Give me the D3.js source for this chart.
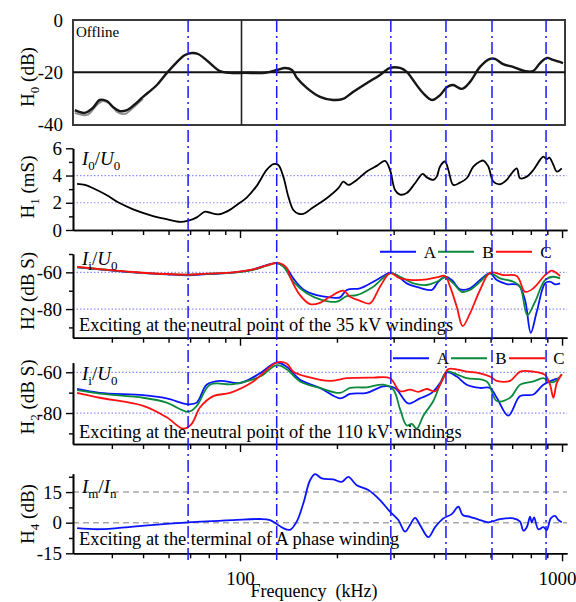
<!DOCTYPE html>
<html>
<head>
<meta charset="utf-8">
<script src="https://cdn.jsdelivr.net/npm/d3@7"></script>
<style>
  html, body { margin: 0; padding: 0; background: #fff; }
  svg { display: block; }
  text { font-family: "Liberation Serif", "Times New Roman", serif; fill: #000; }
</style>
</head>
<body>
<svg id="chart" width="576" height="602"></svg>
<script>
// ---------- data (frequency in kHz) ----------
const markerFreqs = [69, 130, 294, 436, 606, 892];

// H0: offline response (dB)
const h0Freq = [30.7,33.0,34.9,36.7,38.6,40.3,42.4,44.6,46.5,50.0,55.2,59.3,63.7,67.5,70.9,74.1,77.9,82.4,86.7,93.1,103.6,119.6,130.3,138.0,145.0,150.3,161.5,177.2,194.4,208.9,224.3,248.0,272.1,292.3,314.0,330.1,344.6,370.1,394.8,418.0,439.5,458.7,489.1,517.9,556.3,597.4,619.3,655.8,704.3,767.7,812.8,854.5,898.4,937.7,1007];
const h0Val = [-34.6,-35.7,-33.8,-30.7,-31.1,-33.4,-35.0,-34.6,-33.0,-29.5,-24.9,-20.2,-16.0,-13.3,-12.5,-12.9,-14.8,-17.5,-19.5,-20.2,-20.2,-20.2,-19.1,-18.3,-19.1,-22.2,-26.1,-29.5,-30.7,-30.3,-27.6,-24.1,-21.0,-18.3,-18.3,-19.9,-23.0,-28.0,-30.7,-28.8,-25.7,-24.9,-26.4,-23.7,-17.9,-14.8,-14.8,-16.8,-17.9,-19.5,-19.5,-16.4,-14.4,-15.2,-16.4];
const h0bFreq = [30.7,33.5,36.0,37.5,39.5,41.5,43.9,46.5,50.0];
const h0bVal = [-35.7,-36.5,-32.6,-31.1,-32.2,-35.3,-36.1,-33.8,-30.3];

// H1: I0/U0 (mS)
const h1Freq = [31.2,33.0,35.0,38.5,42.4,46.6,52.5,59.2,65.1,69.1,73.4,77.9,80.7,85.6,90.9,97.7,104.9,112.7,121.0,126.9,131.5,136.3,141.3,146.4,151.7,157.0,168.9,185.9,202.0,209.4,216.9,230.4,247.5,265.8,282.0,292.3,302.9,314.0,329.5,349.6,369.4,380.1,398.4,408.3,418.0,433.2,443.6,459.7,482.2,505.8,530.3,556.3,569.6,590.3,611.9,641.6,673.3,698.1,723.5,740.8,777.2,814.6,854.5,874.9,896.6,913.3,940.0,962.8,997.9];
const h1Val = [3.38,3.31,3.07,2.57,1.96,1.52,1.10,0.79,0.59,0.68,0.93,1.35,1.27,1.15,1.35,1.84,2.38,3.24,4.41,4.83,4.78,3.92,2.45,1.47,1.20,1.18,1.67,2.33,3.07,3.55,3.31,3.68,4.29,4.71,5.07,4.41,2.94,2.60,2.72,3.43,4.12,3.87,3.68,3.92,4.66,5.03,4.41,3.31,3.48,3.80,4.66,5.03,5.10,4.66,3.55,3.36,3.68,4.17,4.53,3.80,3.92,4.41,5.15,5.39,5.20,5.32,4.78,4.29,4.53];

// H2: Ii/U0 (dB S), excitation at 35 kV neutral
const n35AFreq = [31.2,36.7,46.6,59.2,69.1,78.8,95.3,110.0,121.0,129.4,133.1,139.6,146.4,157.3,173.0,190.4,204.5,214.5,235.9,259.4,278.6,292.3,306.6,329.5,362.2,393.9,413.0,433.2,454.5,482.2,517.9,556.3,597.4,627.1,673.3,731.6,767.5,799.5,834.5,885.6,917.9,951.2,985.9];
const n35AVal = [-57.3,-58.4,-60.0,-61.1,-61.6,-61.0,-60.2,-58.4,-56.0,-54.8,-55.5,-57.8,-63.3,-69.3,-72.4,-73.6,-73.6,-69.6,-68.7,-65.1,-62.0,-60.2,-61.5,-66.0,-68.4,-69.6,-65.1,-62.4,-64.2,-69.3,-68.7,-64.2,-60.5,-64.2,-66.4,-66.9,-75.1,-92.9,-81.5,-66.0,-65.1,-66.5,-66.0];
const n35BFreq = [31.2,36.7,46.6,59.2,69.1,78.8,95.3,110.0,121.0,130.0,136.3,146.4,161.1,177.2,199.7,214.5,230.4,259.4,292.3,314.0,345.3,380.1,408.3,433.2,459.7,488.0,517.9,556.3,597.4,641.6,706.0,740.8,780.2,824.4,885.6,940.0,985.9];
const n35BVal = [-57.2,-58.3,-59.9,-61.0,-61.3,-60.8,-60.1,-58.6,-56.4,-55.0,-56.8,-65.1,-71.4,-74.7,-76.0,-72.9,-72.4,-67.8,-60.5,-62.4,-66.0,-66.9,-65.1,-62.7,-66.0,-70.6,-69.6,-65.1,-60.5,-63.3,-65.1,-67.8,-83.3,-76.0,-64.2,-62.4,-63.3];
const n35CFreq = [31.2,36.7,46.6,59.2,69.1,78.8,95.3,110.0,121.0,131.5,139.6,143.0,153.6,165.0,177.2,190.4,209.4,219.6,235.9,253.4,272.1,292.3,314.0,345.3,380.1,408.3,433.2,449.0,471.0,491.5,517.9,556.3,597.4,657.2,723.5,767.5,814.6,885.6,929.0,962.8,985.9];
const n35CVal = [-57.0,-58.2,-59.8,-60.9,-61.2,-60.7,-60.0,-58.4,-56.2,-54.8,-57.5,-62.4,-72.4,-77.3,-76.6,-73.3,-70.0,-73.3,-75.5,-76.9,-67.8,-60.5,-63.3,-64.2,-63.8,-62.7,-62.0,-67.8,-78.7,-89.3,-82.3,-69.6,-60.2,-61.5,-62.0,-70.6,-68.7,-61.5,-59.1,-60.5,-62.0];

// H2: Ii/U0 (dB S), excitation at 110 kV neutral
const n110AFreq = [31.2,36.7,50.1,59.2,69.1,73.4,78.8,86.7,100,115.4,130.0,139.6,153.6,177.2,204.5,219.6,247.5,278.6,302.9,333.3,362.2,393.9,418.0,438.5,471.0,505.8,556.3,597.4,627.1,681.1,740.8,814.6,874.9,940.0,985.9];
const n110AVal = [-68.2,-70.1,-71.2,-72.8,-75.7,-74.9,-66.1,-64.2,-65.3,-60.5,-55.2,-57.3,-63.7,-67.7,-72.8,-70.6,-70.1,-66.9,-67.7,-75.3,-72.8,-70.1,-65.3,-60.0,-62.1,-66.1,-67.7,-67.7,-72.5,-81.3,-71.7,-70.9,-66.1,-63.7,-62.9];
const n110BFreq = [31.2,36.7,50.1,59.2,69.1,73.4,80.7,95.3,115.4,130.0,139.6,153.6,177.2,204.5,219.6,247.5,278.6,299.3,314.0,329.5,341.4,353.9,370.9,398.4,418.0,438.5,471.0,505.8,583.7,627.1,689.5,740.8,814.6,874.9,917.9,951.2,997.9];
const n110BVal = [-68.8,-70.5,-72.5,-74.9,-79.4,-76.5,-66.1,-65.8,-62.1,-56.5,-58.5,-64.5,-67.7,-70.1,-67.7,-67.4,-66.1,-68.5,-78.1,-86.1,-85.3,-87.7,-81.3,-74.1,-66.1,-59.7,-61.0,-62.9,-64.5,-74.1,-72.5,-66.1,-64.5,-62.9,-64.8,-64.5,-61.0];
const n110CFreq = [31.2,36.7,50.1,59.2,66.7,70.8,75.1,82.6,93.1,110.0,130.0,139.6,146.4,161.1,190.4,214.5,259.4,292.3,314.0,337.3,357.9,380.1,403.4,428.1,443.6,505.8,556.3,597.4,627.1,689.5,740.8,814.6,885.6,917.9,940.0,962.8,997.9];
const n110CVal = [-70.1,-72.5,-76.5,-82.1,-87.7,-85.3,-77.3,-71.7,-70.1,-64.5,-55.2,-55.7,-59.7,-62.1,-64.2,-62.9,-62.6,-62.9,-69.3,-68.5,-69.6,-68.2,-69.3,-62.9,-58.4,-59.7,-60.5,-62.1,-64.2,-64.2,-59.7,-59.7,-61.3,-66.1,-72.5,-65.3,-61.0];

// H4: Im/In (dB), excitation at A phase terminal
const h4Freq = [31.2,36.7,46.6,59.2,69.1,95.3,115.4,123.9,130.0,136.3,143.0,150.0,157.3,165.0,171.0,179.4,194.9,207.0,216.9,230.4,250.3,272.1,292.3,310.2,325.4,337.3,349.6,362.2,384.5,403.4,428.1,454.5,476.4,491.5,517.9,556.3,590.3,641.6,706.0,740.8,758.2,777.2,795.4,805.2,818.5,844.2,874.9,896.6,922.5,951.2,973.9,997.9];
const h4Val = [-2.7,-3.2,-1.9,-0.6,0.2,1.3,1.8,1.3,-0.6,-2.7,-3.5,0.5,9.5,20.8,23.8,21.7,21.2,20.0,22.4,18.4,16.0,11.1,5.4,1.3,-4.4,-1.1,2.4,-1.1,-7.1,-2.2,2.1,4.2,7.8,3.8,2.9,1.3,0.2,1.7,2.1,0.5,-3.9,-2.2,2.9,0,2.6,-3.2,-2.2,-3.6,2.1,3.3,1.3,0.2];

const xMajorTicks = [100, 1000];
const xMinorTicks = [40,50,60,70,80,90,200,300,400,500,600,700,800,900];
const legendNames = ["A", "B", "C"];
const phaseColors = ["#0a14ff", "#0b8a3c", "#ff1010"];

// ---------- layout ----------
const svg = d3.select("#chart");
const X0 = 73, X1 = 567;
const x = d3.scaleLog().domain([30.3, 1036]).range([X0, X1]);

const zip = (fs, vs) => fs.map((f, i) => [f, vs[i]]);
const font = 19;

function makeLine(y) {
  return d3.line().x(d => x(d[0])).y(d => y(d[1])).curve(d3.curveCatmullRom.alpha(0.5));
}

function yAxisTitle(cy, parts) {
  const t = svg.append("text")
    .attr("transform", `translate(34,${cy}) rotate(-90)`)
    .attr("text-anchor", "middle")
    .attr("font-size", font);
  parts.forEach(p => {
    const ts = t.append("tspan").text(p.t);
    if (p.sub) ts.attr("font-size", 13).attr("dy", 5);
    if (p.back) ts.attr("dy", -5);
  });
}

function ratioLabel(px, py, num, numSub, den, denSub) {
  const t = svg.append("text").attr("x", px).attr("y", py).attr("font-size", font);
  t.append("tspan").attr("font-style", "italic").text(num);
  t.append("tspan").attr("font-size", 13).attr("dy", 5).text(numSub);
  t.append("tspan").attr("dy", -5).text("/");
  t.append("tspan").attr("font-style", "italic").text(den);
  t.append("tspan").attr("font-size", 13).attr("dy", 5).text(denSub);
}

function leftAxis(y, majors, minors, fmt) {
  const g = svg.append("g").attr("transform", `translate(${X0},0)`);
  g.call(d3.axisLeft(y).tickValues(majors).tickSize(7).tickSizeOuter(0).tickPadding(4).tickFormat(fmt));
  g.append("g").call(d3.axisLeft(y).tickValues(minors).tickSize(4).tickSizeOuter(0).tickFormat(""));
  g.selectAll("path").attr("stroke", "#000").attr("stroke-width", 1.6);
  g.selectAll("line").attr("stroke", "#000").attr("stroke-width", 1.4);
  g.selectAll("text").attr("font-size", font).attr("font-family", "Liberation Serif, serif").attr("fill", "#000");
  return g;
}

function bottomAxis(yPos, withLabels) {
  const g = svg.append("g").attr("transform", `translate(0,${yPos})`);
  g.call(d3.axisBottom(x).tickValues(xMajorTicks).tickSize(8).tickSizeOuter(0).tickPadding(10)
    .tickFormat(withLabels ? d3.format("d") : ""));
  g.append("g").call(d3.axisBottom(x).tickValues(xMinorTicks).tickSize(5).tickSizeOuter(0).tickFormat(""));
  g.selectAll("path").attr("stroke", "#000").attr("stroke-width", 1.6);
  g.selectAll("line").attr("stroke", "#000").attr("stroke-width", 1.4);
  g.selectAll("text").attr("font-size", font).attr("font-family", "Liberation Serif, serif").attr("fill", "#000");
  return g;
}

function hGuide(y, v, color, dash, width) {
  svg.append("line").attr("x1", X0).attr("x2", X1).attr("y1", y(v)).attr("y2", y(v))
    .attr("stroke", color).attr("stroke-dasharray", dash).attr("stroke-width", width);
}

function legend(x0, yL) {
  legendNames.forEach((n, i) => {
    const lx = x0 + i * 58;
    svg.append("line").attr("x1", lx).attr("x2", lx + 36).attr("y1", yL).attr("y2", yL)
      .attr("stroke", phaseColors[i]).attr("stroke-width", 2);
    svg.append("text").attr("x", lx + 50).attr("y", yL + 6).attr("text-anchor", "middle")
      .attr("font-size", 17).attr("fill", "#333").text(n);
  });
}

// ---------- panel 0: H0 offline (framed) ----------
const y0 = d3.scaleLinear().domain([0, -40]).range([20.7, 124]);
svg.append("defs").append("filter").attr("id", "soft")
  .append("feGaussianBlur").attr("stdDeviation", 0.55);
svg.append("rect").attr("x", X0).attr("y", 20).attr("width", 565 - X0).attr("height", 105)
  .attr("fill", "none").attr("stroke", "#3a3a3a").attr("stroke-width", 2);
svg.append("line").attr("x1", X0).attr("x2", 565).attr("y1", y0(-20)).attr("y2", y0(-20))
  .attr("stroke", "#111").attr("stroke-width", 2);
svg.append("line").attr("x1", x(100) + 1.5).attr("x2", x(100) + 1.5).attr("y1", 20).attr("y2", 125)
  .attr("stroke", "#222").attr("stroke-width", 1.6);
[0, -20, -40].forEach(v => {
  svg.append("text").attr("x", 63).attr("y", y0(v)).attr("dy", "0.35em")
    .attr("text-anchor", "end").attr("font-size", font).text(String(v));
});
svg.append("path").datum(zip(h0bFreq, h0bVal)).attr("d", makeLine(y0))
  .attr("fill", "none").attr("stroke", "#8a8a8a").attr("stroke-width", 1.8).attr("filter", "url(#soft)");
svg.append("path").datum(zip(h0Freq, h0Val)).attr("d", makeLine(y0))
  .attr("fill", "none").attr("stroke", "#151515").attr("stroke-width", 2.4).attr("filter", "url(#soft)");
svg.append("text").attr("x", 76).attr("y", 37).attr("font-size", 15).text("Offline");
yAxisTitle(77, [{t: "H"}, {t: "0", sub: true}, {t: " (dB)", back: true}]);

// ---------- panel 1: H1 ----------
const y1 = d3.scaleLinear().domain([0, 6]).range([230, 148.3]);
hGuide(y1, 2, "#8c8cff", "1.5,2", 1.2);
hGuide(y1, 4, "#8c8cff", "1.5,2", 1.2);
svg.append("path").datum(zip(h1Freq, h1Val)).attr("d", makeLine(y1))
  .attr("fill", "none").attr("stroke", "#000").attr("stroke-width", 1.8);
leftAxis(y1, [0, 2, 4, 6], [1, 3, 5], d => String(d));
bottomAxis(230, false);
ratioLabel(82, 165, "I", "0", "U", "0");
yAxisTitle(187, [{t: "H"}, {t: "1", sub: true}, {t: " (mS)", back: true}]);

// ---------- panel 2: H2, 35 kV ----------
const y2 = d3.scaleLinear().domain([-95.6, -50]).range([337.7, 254]);
hGuide(y2, -60, "#8c8cff", "1.5,2", 1.2);
hGuide(y2, -80, "#8c8cff", "1.5,2", 1.2);
[[n35AFreq, n35AVal], [n35BFreq, n35BVal], [n35CFreq, n35CVal]].forEach((s, i) => {
  svg.append("path").datum(zip(s[0], s[1])).attr("d", makeLine(y2))
    .attr("fill", "none").attr("stroke", phaseColors[i]).attr("stroke-width", 1.8);
});
leftAxis(y2, [-60, -80], [-50, -70, -90], d => String(d));
bottomAxis(337.7, false);
ratioLabel(82, 265, "I", "i", "U", "0");
legend(380, 251.7);
svg.append("text").attr("x", 79).attr("y", 331).attr("font-size", 18.4)
  .text("Exciting at the neutral point of the 35 kV windings");
yAxisTitle(291, [{t: "H2 (dB S)"}]);

// ---------- panel 3: H2, 110 kV ----------
const y3 = d3.scaleLinear().domain([-95.2, -55.3]).range([444, 362.7]);
hGuide(y3, -60, "#8c8cff", "1.5,2", 1.2);
hGuide(y3, -80, "#8c8cff", "1.5,2", 1.2);
[[n110AFreq, n110AVal], [n110BFreq, n110BVal], [n110CFreq, n110CVal]].forEach((s, i) => {
  svg.append("path").datum(zip(s[0], s[1])).attr("d", makeLine(y3))
    .attr("fill", "none").attr("stroke", phaseColors[i]).attr("stroke-width", 1.8);
});
leftAxis(y3, [-60, -80], [-70, -90], d => String(d));
bottomAxis(444, false);
ratioLabel(82, 380, "I", "i", "U", "0");
legend(393, 358.3);
svg.append("text").attr("x", 79).attr("y", 438).attr("font-size", 18.4)
  .text("Exciting at the neutral point of the 110 kV windings");
yAxisTitle(397, [{t: "H"}, {t: "2", sub: true}, {t: " (dB S)", back: true}]);

// ---------- panel 4: H4 ----------
const y4 = d3.scaleLinear().domain([-15, 24]).range([553.3, 473.7]);
hGuide(y4, 15, "#a8a8a8", "6,4", 1.6);
hGuide(y4, 0, "#a8a8a8", "6,4", 1.6);
svg.append("path").datum(zip(h4Freq, h4Val)).attr("d", makeLine(y4))
  .attr("fill", "none").attr("stroke", phaseColors[0]).attr("stroke-width", 1.8);
leftAxis(y4, [-15, 0, 15], [-7.5, 7.5, 22.5], d => String(d));
const xb = bottomAxis(553.3, true);
xb.selectAll(".tick text").filter(d => d === 1000).attr("dx", -5);
ratioLabel(82, 493, "I", "m", "I", "n");
svg.append("text").attr("x", 79).attr("y", 545).attr("font-size", 18.4)
  .text("Exciting at the terminal of A phase winding");
yAxisTitle(514, [{t: "H"}, {t: "4", sub: true}, {t: " (dB)", back: true}]);

svg.append("text").attr("x", 314).attr("y", 597).attr("text-anchor", "middle")
  .attr("font-size", 18).attr("xml:space", "preserve").text("Frequency  (kHz)");

// ---------- resonance markers ----------
markerFreqs.forEach(f => {
  svg.append("line").attr("x1", x(f)).attr("x2", x(f)).attr("y1", 20).attr("y2", 561)
    .attr("stroke", "#1a1aff").attr("stroke-width", 1.5).attr("stroke-dasharray", "12,4,2,4");
});
</script>
</body>
</html>
